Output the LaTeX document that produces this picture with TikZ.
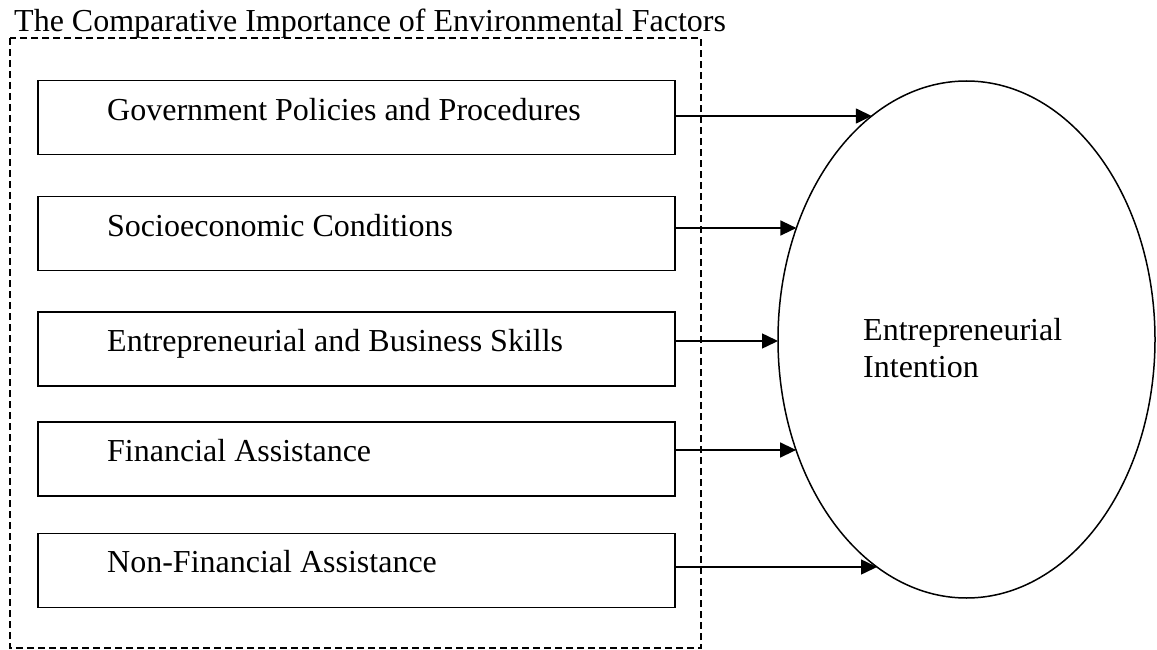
\documentclass[tikz,border=0pt]{standalone}
\usepackage{fontspec}
\setmainfont{Liberation Serif}
\usetikzlibrary{shapes.geometric,arrows.meta}
\begin{document}
\begin{tikzpicture}[x=1pt,y=-1pt,
  every node/.style={font=\fontsize{32}{37}\selectfont},
  factor/.style={draw, line width=1.6pt, minimum width=637pt, minimum height=74pt, inner sep=0pt},
  lbl/.style={anchor=base west, inner sep=0pt},
  link/.style={line width=1.5pt, -{Triangle[length=16pt,width=15pt]}},
  frame/.style={draw, line width=1.5pt, dash pattern=on 7pt off 4pt}]
\useasboundingbox (0,0) rectangle (1157,650);

% frame and title
\draw[frame] (10,38) rectangle (701,648);
\node[lbl] (title) at (14,32) {The Comparative Importance of Environmental Factors};

% factor boxes
\node[factor] (b1) at (356.5,117.5) {};
\node[factor] (b2) at (356.5,233.5) {};
\node[factor] (b3) at (356.5,349) {};
\node[factor] (b4) at (356.5,459) {};
\node[factor] (b5) at (356.5,570.5) {};

\node[lbl] (l1) at (107,121) {Government Policies and Procedures};
\node[lbl] (l2) at (107,236) {Socioeconomic Conditions};
\node[lbl] (l3) at (107,351) {Entrepreneurial and Business Skills};
\node[lbl] (l4) at (107,461) {Financial Assistance};
\node[lbl] (l5) at (107,572) {Non-Financial Assistance};

% outcome ellipse
\node[draw, ellipse, line width=1.5pt, minimum width=377pt, minimum height=517pt, inner sep=0pt] (ei) at (966.5,339.5) {};
\node[lbl] (e1) at (863,340) {Entrepreneurial};
\node[lbl] (e2) at (863,377) {Intention};

% arrow targets on the ellipse boundary
\coordinate (t1) at (871.8,116);
\coordinate (t2) at (796.4,228);
\coordinate (t3) at (778,341);
\coordinate (t4) at (796.1,450);
\coordinate (t5) at (877,567);

\draw[link] (b1.east |- t1) -- (t1);
\draw[link] (b2.east |- t2) -- (t2);
\draw[link] (b3.east |- t3) -- (t3);
\draw[link] (b4.east |- t4) -- (t4);
\draw[link] (b5.east |- t5) -- (t5);
\end{tikzpicture}
\end{document}
